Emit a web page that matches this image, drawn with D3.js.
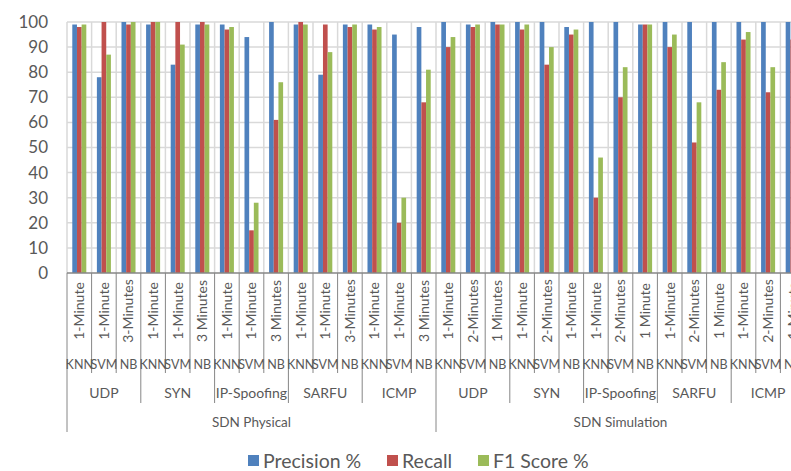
<!DOCTYPE html>
<html>
<head>
<meta charset="utf-8">
<script src="https://cdn.jsdelivr.net/npm/d3@7"></script>
<style>
  body { margin: 0; background: #fff; }
  text { font-family: Lato, "Open Sans", sans-serif; fill: #595959; }
</style>
</head>
<body>
<div id="chart"></div>
<script>
var environments = ["SDN Physical", "SDN Simulation"];
var attacks = ["UDP", "SYN", "IP-Spoofing", "SARFU", "ICMP"];
var algorithms = ["KNN", "SVM", "NB"];

// time window label for every bar group, in order
var timeLabels = [
    "1-Minute", "1-Minute", "3-Minutes",
    "1-Minute", "1-Minute", "3 Minutes",
    "1-Minute", "1-Minute", "3 Minutes",
    "1-Minute", "1-Minute", "3-Minutes",
    "1-Minute", "1-Minute", "3 Minutes",
    "1-Minute", "2-Minutes", "1 Minutes",
    "1-Minute", "2-Minutes", "1-Minute",
    "1-Minute", "2-Minutes", "1 Minute",
    "1-Minute", "2-Minutes", "1 Minute",
    "1-Minute", "2-Minutes", "1-Minute"
];

var seriesNames = ["Precision %", "Recall", "F1 Score %"];
var seriesColors = ["#4f81bd", "#c0504d", "#9bbb59"];

var precision = [99, 78, 100, 99, 83, 99, 99, 94, 100, 99, 79, 99, 99, 95, 98,
                 100, 99, 100, 100, 100, 98, 100, 100, 99, 100, 100, 100, 100, 100, 100];
var recall = [98, 100, 99, 100, 100, 100, 97, 17, 61, 100, 99, 98, 97, 20, 68,
              90, 98, 99, 97, 83, 95, 30, 70, 99, 90, 52, 73, 93, 72, 93];
var f1 = [99, 87, 100, 100, 91, 99, 98, 28, 76, 99, 88, 99, 98, 30, 81,
          94, 99, 99, 99, 90, 97, 46, 82, 99, 95, 68, 84, 96, 82, 96];

var yTicks = [0, 10, 20, 30, 40, 50, 60, 70, 80, 90, 100];

// build the category table
var data = [];
var i = 0;
environments.forEach(function (env) {
    attacks.forEach(function (att) {
        algorithms.forEach(function (alg) {
            data.push({
                id: i, env: env, attack: att, algo: alg, time: timeLabels[i],
                values: [precision[i], recall[i], f1[i]]
            });
            i++;
        });
    });
});

var width = 791, height = 471;
var plotLeft = 67, plotTop = 22, plotBottom = 273, plotRight = 805;

var svg = d3.select("#chart").append("svg")
    .attr("width", width)
    .attr("height", height);

var x0 = d3.scaleBand()
    .domain(data.map(function (d) { return d.id; }))
    .range([plotLeft, plotRight])
    .padding(0);

var bw = x0.bandwidth();
var x1 = d3.scaleBand()
    .domain([0, 1, 2])
    .range([bw * 0.215, bw * 0.785]);

var y = d3.scaleLinear()
    .domain([0, 100])
    .range([plotBottom, plotTop]);

// gridlines
var grid = svg.append("g").attr("stroke", "#d9d9d9").attr("stroke-width", 1.5);
grid.selectAll("line.h")
    .data(yTicks.slice(1))
    .enter().append("line")
    .attr("x1", plotLeft).attr("x2", plotRight)
    .attr("y1", function (d) { return y(d); })
    .attr("y2", function (d) { return y(d); });
grid.selectAll("line.v")
    .data(d3.range(data.length + 1))
    .enter().append("line")
    .attr("x1", function (d) { return plotLeft + d * bw; })
    .attr("x2", function (d) { return plotLeft + d * bw; })
    .attr("y1", plotTop).attr("y2", plotBottom);

// bars
var groups = svg.append("g")
    .selectAll("g")
    .data(data)
    .enter().append("g")
    .attr("transform", function (d) { return "translate(" + x0(d.id) + ",0)"; });

groups.selectAll("rect")
    .data(function (d) { return d.values.map(function (v, k) { return {k: k, v: v}; }); })
    .enter().append("rect")
    .attr("x", function (d) { return x1(d.k); })
    .attr("width", x1.bandwidth())
    .attr("y", function (d) { return y(d.v); })
    .attr("height", function (d) { return y(0) - y(d.v); })
    .attr("fill", function (d) { return seriesColors[d.k]; });

// y axis labels
svg.append("g")
    .selectAll("text")
    .data(yTicks)
    .enter().append("text")
    .attr("x", 48)
    .attr("y", function (d) { return y(d); })
    .attr("dy", "0.35em")
    .attr("text-anchor", "end")
    .style("font-size", "17px")
    .text(function (d) { return d; });

// x axis line
var axisColor = "#868686";
svg.append("line")
    .attr("x1", plotLeft).attr("x2", plotRight)
    .attr("y1", plotBottom).attr("y2", plotBottom)
    .attr("stroke", axisColor).attr("stroke-width", 1.5);

// category separators (deeper for higher levels)
var sep = svg.append("g").attr("stroke", axisColor).attr("stroke-width", 1);
sep.selectAll("line")
    .data(d3.range(data.length + 1))
    .enter().append("line")
    .attr("x1", function (d) { return plotLeft + d * bw; })
    .attr("x2", function (d) { return plotLeft + d * bw; })
    .attr("y1", plotBottom)
    .attr("y2", function (d) {
        if (d % 15 === 0) return 432;
        if (d % 3 === 0) return 403;
        return 373;
    });

// time labels (rotated)
svg.append("g")
    .selectAll("text")
    .data(data)
    .enter().append("text")
    .attr("transform", function (d) {
        return "translate(" + (x0(d.id) + bw / 2) + ",311) rotate(-90)";
    })
    .attr("text-anchor", "middle")
    .attr("dy", "0.35em")
    .style("font-size", "14px")
    .text(function (d) { return d.time; });

// algorithm labels
svg.append("g")
    .selectAll("text")
    .data(data)
    .enter().append("text")
    .attr("x", function (d) { return x0(d.id) + bw / 2; })
    .attr("y", 365)
    .attr("dy", "0.35em")
    .attr("text-anchor", "middle")
    .style("font-size", "12.5px")
    .text(function (d) { return d.algo; });

// attack labels
var attackGroups = d3.range(environments.length * attacks.length);
svg.append("g")
    .selectAll("text")
    .data(attackGroups)
    .enter().append("text")
    .attr("x", function (g) { return plotLeft + (g * 3 + 1.5) * bw; })
    .attr("y", 393)
    .attr("dy", "0.35em")
    .attr("text-anchor", "middle")
    .style("font-size", "14px")
    .text(function (g) { return attacks[g % attacks.length]; });

// environment labels
svg.append("g")
    .selectAll("text")
    .data(environments)
    .enter().append("text")
    .attr("x", function (e, k) { return plotLeft + (k * 15 + 7.5) * bw; })
    .attr("y", 422)
    .attr("dy", "0.35em")
    .attr("text-anchor", "middle")
    .style("font-size", "13.5px")
    .text(function (e) { return e; });

// legend
var legendX = [248, 387, 478];
var legend = svg.append("g")
    .selectAll("g")
    .data(seriesNames)
    .enter().append("g")
    .attr("transform", function (d, k) { return "translate(" + legendX[k] + ",461)"; });
legend.append("rect")
    .attr("x", 0).attr("y", -6)
    .attr("width", 11).attr("height", 11)
    .attr("fill", function (d, k) { return seriesColors[k]; });
legend.append("text")
    .attr("x", 15)
    .attr("dy", "0.35em")
    .style("font-size", "19.5px")
    .text(function (d) { return d; });
</script>
</body>
</html>
